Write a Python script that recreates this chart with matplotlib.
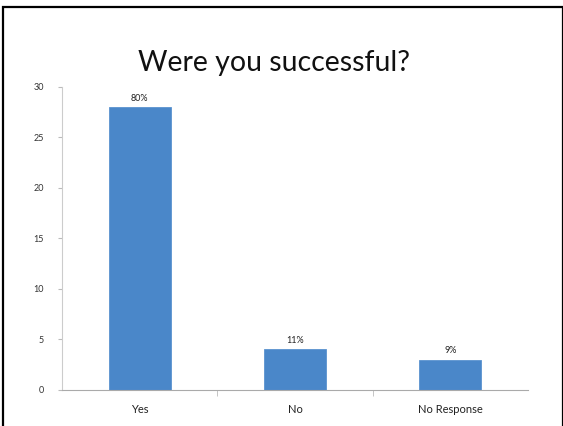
import matplotlib.pyplot as plt
from matplotlib.patches import Rectangle

# данные
categories = ['Yes', 'No', 'No Response']
counts = [28, 4, 3]
pct_labels = ['80%', '11%', '9%']
y_ticks = [0, 5, 10, 15, 20, 25, 30]

plt.rcParams['font.family'] = ['Lato', 'DejaVu Sans']

fig = plt.figure(figsize=(5.63, 4.26), dpi=100)
ax = fig.add_axes([0.110, 0.085, 0.828, 0.711])

x = range(len(categories))
bars = ax.bar(x, counts, width=0.4, color='#4A87C9', edgecolor='#5B93CF', linewidth=0.6)

for b, lab in zip(bars, pct_labels):
    ax.text(b.get_x() + b.get_width() / 2, b.get_height() + 0.4, lab,
            ha='center', va='bottom', fontsize=6.5, color='#222222')

ax.set_xlim(-0.5, 2.5)
ax.set_ylim(0, 30)
ax.set_yticks(y_ticks)
ax.tick_params(axis='y', labelsize=6.5, colors='#333333', length=3, color='#bbbbbb', pad=10)
ax.set_xticks(list(x))
ax.set_xticklabels(categories, fontsize=8, color='#222222')
ax.set_xticks([0.5, 1.5], minor=True)
ax.tick_params(axis='x', which='major', length=0, pad=10)
ax.tick_params(axis='x', which='minor', length=4, color='#bbbbbb')

for s in ['top', 'right']:
    ax.spines[s].set_visible(False)
ax.spines['left'].set_color('#cccccc')
ax.spines['bottom'].set_color('#aaaaaa')

fig.text(0.487, 0.852, 'Were you successful?', ha='center', va='center', fontsize=20.5, color='#111111')

# рамка слайда
fig.patches.append(Rectangle((3 / 563, -0.1), 0.995, 1 - 7 / 426 + 0.1, transform=fig.transFigure,
                             fill=False, edgecolor='black', linewidth=1.6))

fig.savefig('out.png', dpi=100)
